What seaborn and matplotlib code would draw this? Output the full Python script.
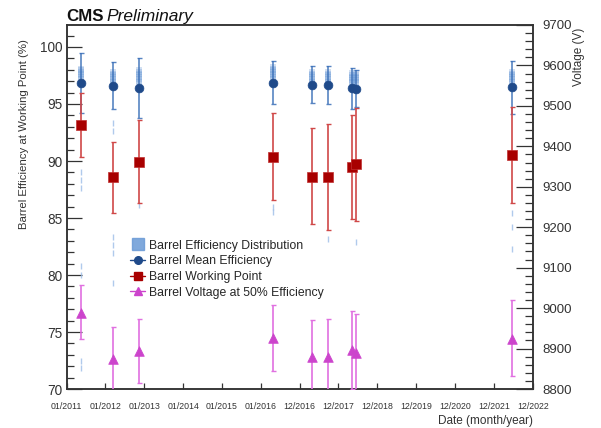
import numpy as np
import pandas as pd
import seaborn as sns
import matplotlib.pyplot as plt
from matplotlib.lines import Line2D
from matplotlib.ticker import MultipleLocator

# run dates as fractional years (tick "01/2011" = 2011, ... "12/2022" = 2023)
dates = [2011.365, 2012.20, 2012.87, 2016.32, 2017.33, 2017.74, 2018.34, 2018.46, 2022.47]

mean_eff = [96.8, 96.6, 96.4, 96.87, 96.67, 96.67, 96.38, 96.3, 96.46]
mean_hi = [99.45, 98.7, 99.0, 98.75, 98.33, 98.33, 98.2, 98.0, 98.8]
mean_lo = [94.2, 94.56, 93.75, 95.0, 95.1, 94.97, 94.6, 94.76, 94.1]

wp_eff = [93.16, 88.57, 89.94, 90.38, 88.6, 88.6, 89.45, 89.7, 90.53]
wp_hi = [96.0, 91.64, 93.6, 94.2, 92.87, 93.25, 94.0, 94.68, 94.7]
wp_lo = [90.38, 85.46, 86.34, 86.6, 84.45, 83.95, 84.9, 84.74, 86.3]

v50 = [8988, 8873, 8894, 8925, 8879, 8878, 8896, 8888, 8923]
v50_hi = [9056, 8953, 8973, 9008, 8970, 8972, 8993, 8986, 9019]
v50_lo = [8923, 8793, 8816, 8845, 8788, 8784, 8799, 8790, 8832]

# efficiency distribution: dense part and sparse tail per run
dist_core = [
    [97.2, 97.35, 97.5, 97.65, 97.8, 97.95, 98.1],
    [96.9, 97.05, 97.2, 97.35, 97.5, 97.65, 97.8],
    [96.9, 97.05, 97.2, 97.35, 97.5, 97.65, 97.8, 97.95],
    [97.2, 97.35, 97.5, 97.65, 97.8, 97.95, 98.1, 98.25],
    [96.9, 97.05, 97.2, 97.35, 97.5, 97.65, 97.8],
    [96.9, 97.05, 97.2, 97.35, 97.5, 97.65, 97.8],
    [96.8, 96.95, 97.1, 97.25, 97.4, 97.55, 97.7],
    [96.8, 96.95, 97.1, 97.25, 97.4, 97.55, 97.7],
    [96.9, 97.05, 97.2, 97.35, 97.5, 97.65, 97.8],
]
dist_tail = [
    [89.0, 88.3, 87.6, 80.8, 80.0, 72.5, 71.8],
    [93.3, 92.6, 83.3, 82.6, 81.9, 79.3],
    [86.1],
    [86.0, 85.5],
    [],
    [83.2],
    [],
    [82.9],
    [85.4, 84.2, 82.3],
]

tick_labels = ["01/2011", "01/2012", "01/2013", "01/2014", "01/2015", "01/2016",
               "12/2016", "12/2017", "12/2018", "12/2019", "12/2020", "12/2021",
               "12/2022"]

sns.set_style("ticks")
plt.rcParams["font.family"] = ["Liberation Sans", "DejaVu Sans"]

c_dist = "#6a9ad6"
c_mean = "#1f4a8a"
c_mean_bar = "#3a6fb8"
c_wp = "#a80000"
c_wp_bar = "#d04848"
c_v = "#cc44cc"
c_v_bar = "#e070e0"
c_axis = "#333333"

core_df = pd.DataFrame([(d, v) for d, vals in zip(dates, dist_core) for v in vals],
                       columns=["date", "eff"])
tail_df = pd.DataFrame([(d, v) for d, vals in zip(dates, dist_tail) for v in vals],
                       columns=["date", "eff"])

fig = plt.figure(figsize=(6.01, 4.28), dpi=100)
ax = fig.add_axes([0.1107, 0.0911, 0.7757, 0.8505])

sns.scatterplot(data=tail_df, x="date", y="eff", ax=ax, marker="|", s=22,
                color="#9dbde8", linewidth=1.0, alpha=0.8, legend=False, zorder=2)
sns.scatterplot(data=core_df, x="date", y="eff", ax=ax, marker="s", s=18,
                color=c_dist, linewidth=0, alpha=0.3, legend=False, zorder=2)

mean_err = [np.subtract(mean_eff, mean_lo), np.subtract(mean_hi, mean_eff)]
ax.errorbar(dates, mean_eff, yerr=mean_err, fmt="none", ecolor=c_mean_bar,
            elinewidth=1.2, capsize=1.8, capthick=1.0, alpha=0.85, zorder=3)
wp_err = [np.subtract(wp_eff, wp_lo), np.subtract(wp_hi, wp_eff)]
ax.errorbar(dates, wp_eff, yerr=wp_err, fmt="none", ecolor=c_wp_bar,
            elinewidth=1.2, capsize=1.8, capthick=1.0, zorder=3)

sns.scatterplot(x=dates, y=mean_eff, ax=ax, marker="o", s=40, color=c_mean,
                edgecolor=c_mean, linewidth=0.5, legend=False, zorder=4)
sns.scatterplot(x=dates, y=wp_eff, ax=ax, marker="s", s=48, color=c_wp,
                edgecolor="#c03030", linewidth=0.5, legend=False, zorder=4)

ax.set_xlim(2011, 2023)
ax.set_ylim(70, 101.93)
ax.set_xticks(np.arange(2011, 2024))
ax.set_xticklabels(tick_labels)
ax.yaxis.set_major_locator(MultipleLocator(5))
ax.yaxis.set_minor_locator(MultipleLocator(1))
ax.tick_params(axis="x", which="major", direction="in", length=4.5, width=0.9,
               labelsize=6.3, pad=9, colors=c_axis, top=False)
ax.tick_params(axis="y", which="major", direction="in", length=11, width=0.9,
               labelsize=9.8, pad=3, colors=c_axis)
ax.tick_params(axis="y", which="minor", direction="in", length=5, width=0.9,
               colors=c_axis)
ax.set_ylabel("Barrel Efficiency at Working Point (%)", fontsize=8.2,
              color=c_axis)
ax.yaxis.set_label_coords(-0.08, 0.70)
ax.set_xlabel("Date (month/year)", fontsize=8.5, color=c_axis, loc="right")
ax.xaxis.set_label_coords(1.0, -0.072)

ax2 = ax.twinx()
v_err = [np.subtract(v50, v50_lo), np.subtract(v50_hi, v50)]
ax2.errorbar(dates, v50, yerr=v_err, fmt="none", ecolor=c_v_bar,
             elinewidth=1.2, capsize=1.8, capthick=1.0, zorder=3)
sns.scatterplot(x=dates, y=v50, ax=ax2, marker="^", s=48, color=c_v,
                edgecolor=c_v, linewidth=0.5, legend=False, zorder=4)
ax2.set_ylim(8800, 9700)
ax2.yaxis.set_major_locator(MultipleLocator(100))
ax2.yaxis.set_minor_locator(MultipleLocator(20))
ax2.tick_params(axis="y", which="major", direction="in", length=12, width=0.9,
                labelsize=9.5, pad=7, colors=c_axis)
ax2.tick_params(axis="y", which="minor", direction="in", length=6, width=0.9,
                colors=c_axis)
ax2.set_ylabel("Voltage (V)", fontsize=8.5, color=c_axis)
ax2.yaxis.set_label_coords(1.087, 0.913)

for a in (ax, ax2):
    for sp in a.spines.values():
        sp.set_color(c_axis)
        sp.set_linewidth(1.1)
        sp.set_visible(True)

handles = [
    Line2D([], [], marker="s", linestyle="none", markersize=8.5,
           color=c_dist, alpha=0.85),
    Line2D([], [], marker="o", linestyle="-", markersize=5.5,
           color=c_mean, lw=1),
    Line2D([], [], marker="s", linestyle="-", markersize=6,
           color=c_wp, lw=1),
    Line2D([], [], marker="^", linestyle="-", markersize=6,
           color=c_v, lw=1),
]
labels = ["Barrel Efficiency Distribution", "Barrel Mean Efficiency",
          "Barrel Working Point", "Barrel Voltage at 50% Efficiency"]
ax2.legend(handles, labels, loc="upper left", bbox_to_anchor=(0.137, 0.41),
           frameon=False, fontsize=8.8, handlelength=1.2, handletextpad=0.35,
           labelspacing=0.3, borderaxespad=0, borderpad=0)

fig.text(0.1107, 0.95, "CMS", fontsize=12.2, fontweight="bold", color="#111111")
fig.text(0.1775, 0.95, "Preliminary", fontsize=12.5, fontstyle="italic",
         color="#111111")

fig.savefig("out.png", dpi=100)
